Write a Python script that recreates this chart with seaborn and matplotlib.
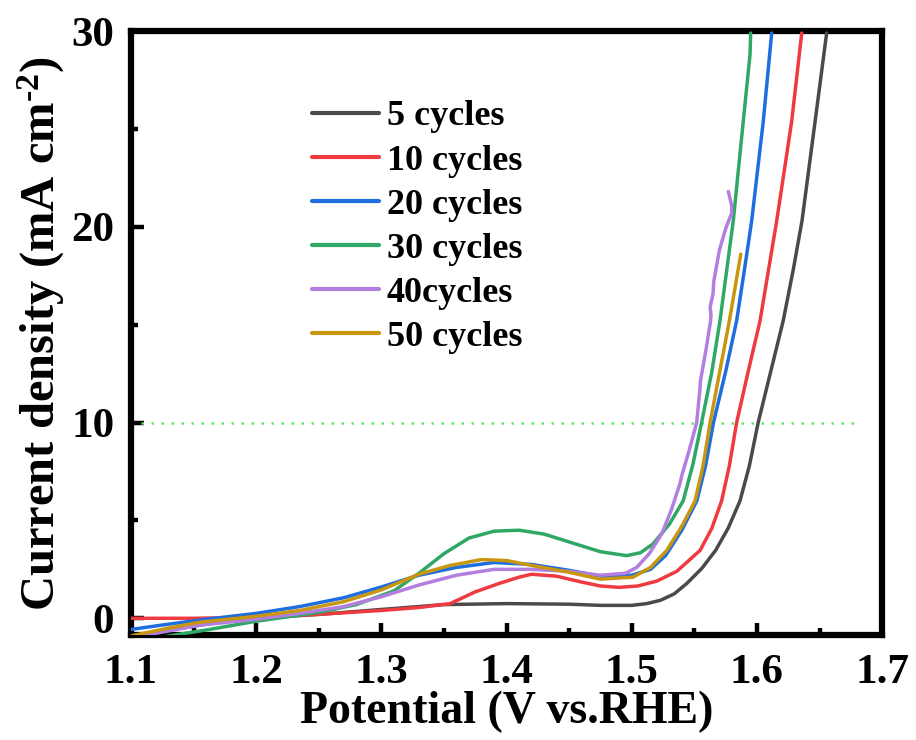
import numpy as np
import pandas as pd
import matplotlib
matplotlib.use("Agg")
import matplotlib.pyplot as plt
import matplotlib.ticker as mticker
import seaborn as sns

# ---------------------------------------------------------------------------
# LSV data (potential V vs. RHE, current mA cm-2)
# ---------------------------------------------------------------------------
V_5 = [1.10, 1.13, 1.16, 1.20, 1.25, 1.30, 1.35, 1.40, 1.45, 1.475, 1.50, 1.512,
       1.523, 1.534, 1.544, 1.556, 1.567, 1.577, 1.5865, 1.594, 1.601, 1.611,
       1.621, 1.629, 1.636, 1.6465, 1.6557]
J_5 = [-1.0, -0.6, -0.3, 0.0, 0.2, 0.45, 0.7, 0.75, 0.72, 0.66, 0.66, 0.75,
       0.92, 1.25, 1.78, 2.55, 3.47, 4.6, 6.0, 7.8, 10.0, 12.6,
       15.2, 17.8, 20.3, 25.4, 29.9]

V_10 = [1.10, 1.15, 1.20, 1.25, 1.30, 1.33, 1.355, 1.375, 1.395, 1.41, 1.42, 1.44,
        1.46, 1.475, 1.49, 1.505, 1.52, 1.536, 1.5546, 1.564, 1.5718, 1.578, 1.5838,
        1.593, 1.6025, 1.609, 1.6158, 1.6278, 1.6358]
J_10 = [0.0, 0.0, 0.05, 0.2, 0.4, 0.55, 0.75, 1.35, 1.8, 2.1, 2.25, 2.15,
        1.85, 1.65, 1.58, 1.65, 1.9, 2.4, 3.47, 4.6, 6.0, 7.8, 10.0,
        12.6, 15.2, 17.7, 20.3, 25.4, 29.9]

V_20 = [1.10, 1.13, 1.16, 1.20, 1.235, 1.27, 1.30, 1.33, 1.36, 1.39, 1.42, 1.45,
        1.475, 1.50, 1.515, 1.527, 1.540, 1.552, 1.559, 1.5653, 1.575, 1.5838,
        1.590, 1.5958, 1.6051, 1.6118]
J_20 = [-0.57, -0.3, -0.05, 0.25, 0.6, 1.05, 1.6, 2.2, 2.6, 2.85, 2.75, 2.45,
        2.15, 2.2, 2.5, 3.2, 4.5, 6.0, 7.8, 10.0, 12.6, 15.2,
        17.8, 20.3, 25.4, 29.9]

V_30 = [1.10, 1.13, 1.16, 1.20, 1.25, 1.28, 1.31, 1.33, 1.35, 1.37, 1.39, 1.41,
        1.43, 1.45, 1.475, 1.496, 1.507, 1.517, 1.53, 1.5411, 1.549, 1.5558,
        1.564, 1.5705, 1.5811, 1.5891, 1.5945, 1.595]
J_30 = [-1.3, -0.9, -0.6, -0.15, 0.3, 0.7, 1.4, 2.3, 3.3, 4.1, 4.45, 4.5,
        4.3, 3.9, 3.4, 3.2, 3.35, 3.8, 4.8, 6.0, 7.9, 10.0,
        12.6, 15.2, 20.3, 25.4, 28.8, 29.9]

V_40 = [1.10, 1.13, 1.155, 1.20, 1.235, 1.27, 1.30, 1.33, 1.36, 1.39, 1.42, 1.45,
        1.475, 1.495, 1.504, 1.514, 1.5239, 1.532, 1.5386, 1.540, 1.546, 1.5519,
        1.5546, 1.5548, 1.559, 1.563, 1.5633, 1.5626, 1.565, 1.5655, 1.570,
        1.575, 1.5798, 1.5798, 1.5772]
J_40 = [-1.0, -0.65, -0.35, -0.05, 0.25, 0.6, 1.1, 1.7, 2.2, 2.5, 2.5, 2.4,
        2.2, 2.3, 2.6, 3.3, 4.3, 5.6, 6.9, 7.3, 8.6, 10.0,
        11.8, 12.1, 13.6, 15.2, 15.5, 15.9, 16.6, 17.2, 18.8,
        19.9, 20.7, 21.1, 21.8]

V_50 = [1.10, 1.13, 1.155, 1.20, 1.235, 1.27, 1.30, 1.33, 1.355, 1.38, 1.40, 1.42,
        1.45, 1.475, 1.501, 1.515, 1.528, 1.540, 1.5506, 1.5570, 1.5626, 1.570,
        1.578, 1.5871]
J_50 = [-0.9, -0.5, -0.2, 0.1, 0.4, 0.85, 1.45, 2.25, 2.7, 3.0, 2.95, 2.7,
        2.35, 2.0, 2.1, 2.6, 3.47, 4.7, 6.0, 7.8, 10.0, 12.5,
        15.2, 18.6]

LABELS = ["5 cycles", "10 cycles", "20 cycles", "30 cycles", "40cycles", "50 cycles"]
COLORS = ["#4a4a4a", "#ee3a40", "#1f6ee0", "#2ea864", "#b27ee0", "#c8960f"]
SERIES = [(V_5, J_5), (V_10, J_10), (V_20, J_20), (V_30, J_30), (V_40, J_40), (V_50, J_50)]

REF_J = 10
REF_V = [1.10, 1.683]

# long-form table for seaborn
frames = []
for lab, (v, j) in zip(LABELS, SERIES):
    frames.append(pd.DataFrame({"V": v, "j": j, "label": lab}))
df = pd.concat(frames, ignore_index=True)

# ---------------------------------------------------------------------------
# Style
# ---------------------------------------------------------------------------
sns.set_theme(style="ticks")
plt.rcParams.update({
    "font.family": ["Liberation Serif", "DejaVu Serif"],
    "font.weight": "bold",
    "axes.labelweight": "bold",
    "text.color": "black",
    "axes.labelcolor": "black",
    "xtick.color": "black",
    "ytick.color": "black",
    "mathtext.fontset": "custom",
    "mathtext.rm": "Liberation Serif:bold",
    "mathtext.bf": "Liberation Serif:bold",
    "mathtext.it": "Liberation Serif:bold",
})

fig = plt.figure(figsize=(9.16, 7.4), dpi=100)
ax = fig.add_axes([0.143, 0.142, 0.820, 0.816])

ax.plot(REF_V, [REF_J, REF_J], linestyle=(0, (1, 3)), color="#66e566", lw=1.8, zorder=1)

sns.lineplot(data=df, x="V", y="j", hue="label", hue_order=LABELS,
             palette=COLORS, estimator=None, sort=False, lw=2.5, ax=ax, zorder=3)

ax.set_xlim(1.1, 1.7)
ax.set_ylim(-0.85, 30)
ax.xaxis.set_major_locator(mticker.MultipleLocator(0.1))
ax.xaxis.set_minor_locator(mticker.MultipleLocator(0.05))
ax.yaxis.set_major_locator(mticker.MultipleLocator(10))
ax.yaxis.set_minor_locator(mticker.MultipleLocator(5))
ax.xaxis.set_major_formatter(mticker.FormatStrFormatter("%.1f"))

for s in ax.spines.values():
    s.set_linewidth(4.5)
    s.set_color("black")

ax.tick_params(which="major", direction="in", length=9, width=3.2, labelsize=31,
               labelcolor="black", color="black")
ax.tick_params(which="minor", direction="in", length=5, width=3.2, color="black")
ax.tick_params(axis="x", which="major", pad=14)
ax.tick_params(axis="y", which="major", pad=12)
for t in ax.get_xticklabels() + ax.get_yticklabels():
    t.set_fontweight("bold")

ax.set_xlabel("Potential (V vs.RHE)", fontsize=33, fontweight="bold", labelpad=-1)
ax.set_ylabel("Current density (mA cm$^{\u2010 2}$)", fontsize=35, fontweight="bold", labelpad=3)

leg = ax.legend(loc="upper left", bbox_to_anchor=(0.2218, 0.9096), frameon=False,
                borderaxespad=0,
                prop={"family": "Liberation Serif", "weight": "bold", "size": 26},
                handlelength=1.85, handletextpad=0.22, labelspacing=0.3)
for line in leg.get_lines():
    line.set_linewidth(3)

fig.savefig("out.png", dpi=100)
